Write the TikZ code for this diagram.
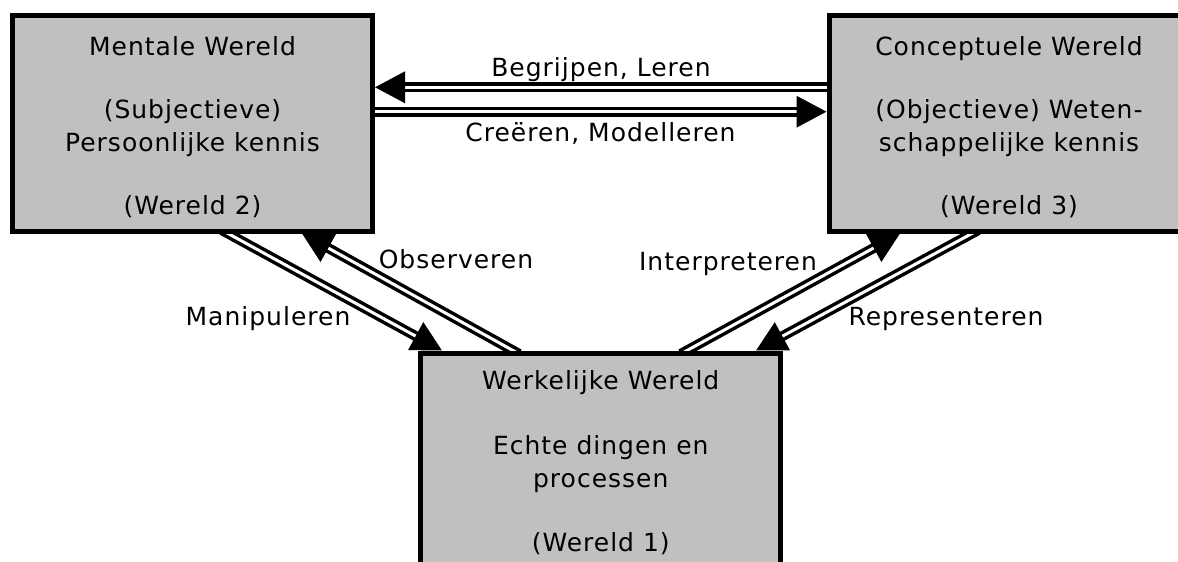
\documentclass[tikz,border=0pt]{standalone}
\usepackage{fontspec}
\setmainfont{DejaVu Sans}[LetterSpace=4]
\usepackage{tikz}
\usetikzlibrary{arrows.meta, backgrounds}
\definecolor{worldgray}{RGB}{192,192,192}

\begin{document}
\begin{tikzpicture}[x=1pt, y=-1pt,
    world/.style={draw, fill=worldgray, line width=5pt, minimum width=360pt,
                  minimum height=216pt, inner sep=0pt, align=center},
    flow/.style={draw, double, double distance=3pt, line width=3.5pt,
                 -{Triangle[length=30pt, width=31pt]}, shorten <=-7pt},
    lbl/.style={anchor=base}]
\fontsize{25}{33}\selectfont
\useasboundingbox (0, 0) rectangle (1178, 562);
\clip (0, 0) rectangle (1178, 562);
        % Draw the worlds
        \node[world] at (192.5, 123) (mental)  {\rule{0pt}{27pt}Mentale Wereld\\[30pt]
            (Subjectieve)\\Persoonlijke kennis\\[30pt](Wereld 2)};
        \node[world] at (1009, 123)  (concept) {\rule{0pt}{27pt}Conceptuele Wereld\\[30pt]
            (Objectieve) Weten-\\schappelijke kennis\\[30pt](Wereld 3)};
        \node[world] at (600.75, 461) (real)   {\rule{0pt}{22pt}Werkelijke Wereld\\[32pt]
            Echte dingen en\\processen\\[31pt](Wereld 1)};
        % Connect the worlds with double arrows
        \begin{scope}[on background layer]
        \draw[flow] ([yshift=35.7pt]concept.west) -- ([yshift=35.7pt]mental.east);
        \draw[flow] ([yshift=11.3pt]mental.east)  -- ([yshift=11.3pt]concept.west);
        \draw[flow] ([xshift=35.5pt]mental.south)  -- ([xshift=-158.75pt]real.north);
        \draw[flow] ([xshift=-87.75pt]real.north)  -- ([xshift=109.5pt]mental.south);
        \draw[flow] ([xshift=86.25pt]real.north)   -- ([xshift=-109pt]concept.south);
        \draw[flow] ([xshift=-37pt]concept.south)  -- ([xshift=155.25pt]real.north);
        \end{scope}
        % Labels
        \node[lbl] at (601, 76.7)   (begrijpen)     {Begrijpen, Leren};
        \node[lbl] at (600.5, 141.7) (creeren)      {Creëren, Modelleren};
        \node[lbl] at (456, 268)    (observeren)    {Observeren};
        \node[lbl] at (268, 325)    (manipuleren)   {Manipuleren};
        \node[lbl] at (728, 270)    (interpreteren) {Interpreteren};
        \node[lbl] at (946, 325)    (representeren) {Representeren};
\end{tikzpicture}
\end{document}
